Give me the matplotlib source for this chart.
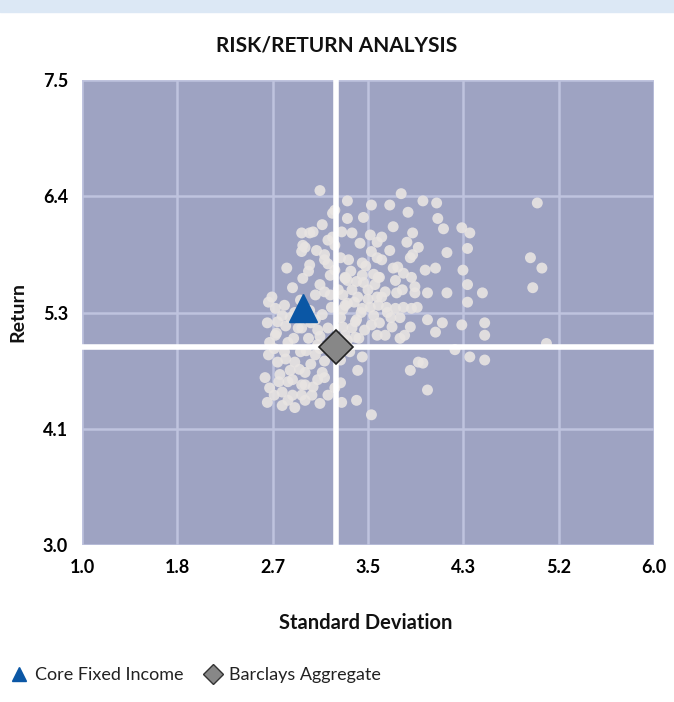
import matplotlib
matplotlib.use('Agg')
import matplotlib.pyplot as plt
from matplotlib.lines import Line2D
from matplotlib.patches import Rectangle

plt.rcParams['font.family'] = ['Lato', 'DejaVu Sans']

# peer universe (standard deviation, return)
peer_sd = [
    3.08, 3.79, 3.32, 3.53, 3.69, 3.98, 4.10, 3.85, 4.11, 3.32, 3.46, 3.21, 3.72, 4.16, 4.32, 4.39,
    3.36, 3.52, 3.89, 2.99, 3.58, 3.84, 3.94, 4.37, 3.43, 3.69, 4.19, 2.95, 3.12, 3.58, 3.87, 3.26,
    3.45, 3.72, 4.00, 4.09, 4.33, 3.60, 3.81, 3.32, 3.46, 2.93, 3.91, 4.02, 4.19, 4.37, 4.50, 3.75,
    3.58, 3.41, 4.37, 3.81, 3.93, 3.32, 3.52, 3.67, 4.02, 4.15, 4.32, 4.52, 3.78, 3.40, 3.71, 3.87,
    3.28, 4.09, 4.52, 3.78, 3.58, 3.39, 5.06, 4.26, 4.39, 4.52, 3.45, 3.41, 3.87, 3.98, 4.02, 3.40,
    3.53, 3.26, 3.08, 3.02, 4.98, 4.92, 5.02, 4.94, 2.92, 3.02, 2.93, 2.92, 3.12, 2.79, 2.84, 3.04,
    2.66, 3.19, 3.19, 3.17, 2.62, 2.63, 2.69, 2.77, 2.63, 2.71, 2.60, 2.80, 2.92, 2.62, 2.75, 2.86,
    3.01, 3.10, 3.04, 2.86, 2.80, 2.98, 3.15, 3.10, 2.69, 2.89, 3.12, 2.95, 2.75, 3.21, 3.30, 3.45,
    3.59, 3.74, 3.88, 3.39, 3.53, 3.82, 3.30, 3.65, 3.94, 3.27, 3.27, 3.62, 3.53, 3.89, 3.33, 3.62,
    3.76, 3.30, 3.45, 3.59, 3.74, 3.88, 3.36, 3.50, 3.65, 3.80, 3.91, 2.91, 2.99, 2.82, 3.06, 3.17,
    3.26, 2.91, 2.77, 3.26, 3.34, 3.17, 3.24, 3.26, 3.06, 2.64, 2.73, 2.84, 2.64, 2.95, 2.82, 3.21,
    3.21, 3.08, 2.99, 2.71, 3.04,
    3.35, 3.40, 3.38, 3.44, 3.50, 3.55, 3.47, 3.36, 3.28, 3.30, 3.48, 3.56, 3.62, 3.60, 3.42, 3.32,
    3.28, 3.55, 3.66, 3.70,
    2.70, 2.78, 2.85, 2.92, 3.00, 3.08, 2.68, 2.78, 2.90, 3.00, 3.12, 2.72, 2.84, 2.95, 3.06, 2.68,
    2.80, 2.92, 3.15, 3.08, 2.96, 2.86, 2.75, 3.18, 3.12,
    3.05, 3.15, 3.10, 2.98, 3.15,
]
peer_ret = [
    6.43, 6.40, 6.33, 6.29, 6.29, 6.33, 6.31, 6.22, 6.16, 6.16, 6.17, 6.24, 6.08, 6.06, 6.07, 6.02,
    6.02, 6.00, 6.02, 6.02, 5.93, 5.93, 5.88, 5.87, 5.92, 5.85, 5.83, 5.88, 5.81, 5.78, 5.78, 5.78,
    5.73, 5.68, 5.66, 5.68, 5.66, 5.59, 5.63, 5.56, 5.54, 5.58, 5.50, 5.44, 5.44, 5.52, 5.44, 5.44,
    5.40, 5.40, 5.35, 5.30, 5.30, 5.34, 5.30, 5.25, 5.18, 5.15, 5.13, 5.15, 5.20, 5.18, 5.11, 5.11,
    5.11, 5.06, 5.03, 5.00, 5.03, 5.01, 4.95, 4.89, 4.82, 4.79, 4.82, 4.69, 4.69, 4.76, 4.50, 4.40,
    4.26, 4.57, 4.37, 4.53, 6.31, 5.78, 5.68, 5.49, 6.02, 6.03, 5.90, 5.84, 5.76, 5.68, 5.49, 5.42,
    5.40, 6.21, 5.98, 5.61, 5.15, 5.35, 5.29, 5.32, 4.84, 4.77, 4.62, 4.58, 4.55, 4.38, 4.35, 4.33,
    4.45, 4.67, 4.84, 4.77, 4.96, 5.00, 5.10, 5.23, 5.03, 5.10, 4.62, 4.67, 4.48, 4.52, 5.32, 5.29,
    5.32, 5.29, 5.29, 5.16, 5.13, 5.03, 5.03, 5.03, 4.77, 4.38, 6.03, 5.98, 5.84, 5.81, 5.76, 5.76,
    5.69, 5.59, 5.61, 5.59, 5.56, 5.59, 5.47, 5.47, 5.45, 5.47, 5.44, 5.37, 5.27, 5.20, 4.94, 4.89,
    4.94, 4.87, 4.87, 4.79, 4.87, 5.42, 5.47, 5.20, 5.08, 4.96, 4.65, 4.45, 4.52, 4.40, 4.69, 5.66,
    5.90, 5.52, 5.71, 5.16, 5.18,
    5.65, 5.55, 5.35, 5.25, 5.38, 5.22, 5.08, 5.10, 5.42, 5.58, 5.70, 5.52, 5.40, 5.15, 5.00, 4.98,
    5.28, 5.62, 5.30, 5.20,
    5.05, 5.12, 5.00, 5.10, 5.15, 5.02, 4.90, 4.80, 4.70, 4.75, 4.78, 4.58, 4.60, 4.55, 4.60, 4.45,
    4.40, 4.45, 4.45, 4.90, 4.88, 5.25, 5.22, 5.30, 5.45,
    5.85, 5.95, 6.10, 5.65, 5.72,
]

core_sd, core_ret = 2.93, 5.29          # Core Fixed Income
bench_sd, bench_ret = 3.22, 4.92        # Barclays Aggregate

x_ticks = [1.0, 1.833, 2.667, 3.5, 4.333, 5.167, 6.0]
x_labels = ['1.0', '1.8', '2.7', '3.5', '4.3', '5.2', '6.0']
y_ticks = [3.0, 4.125, 5.25, 6.375, 7.5]
y_labels = ['3.0', '4.1', '5.3', '6.4', '7.5']

fig = plt.figure(figsize=(6.74, 7.02), dpi=100)
fig.patches.append(Rectangle((0, 1 - 12 / 702), 1, 12 / 702, transform=fig.transFigure,
                             color='#dce8f5', zorder=0))

ax = fig.add_axes([82 / 674, 1 - 545 / 702, 572 / 674, 465 / 702])
ax.set_facecolor('#9ea3c2')
ax.set_xlim(1.0, 6.0)
ax.set_ylim(3.0, 7.5)
for s in ax.spines.values():
    s.set_visible(False)

ax.set_xticks(x_ticks)
ax.set_xticklabels(x_labels)
ax.set_yticks(y_ticks)
ax.set_yticklabels(y_labels)
ax.tick_params(length=0, labelsize=13, pad=10)
for lab in ax.get_xticklabels() + ax.get_yticklabels():
    lab.set_fontweight('bold')
ax.grid(True, color='#bfc3de', linewidth=1.8)
ax.set_axisbelow(True)

ax.scatter(peer_sd, peer_ret, s=62, color='#e8e4e2', edgecolors='none', alpha=0.9, zorder=2)

# benchmark crosshair
ax.axvline(bench_sd, color='white', linewidth=4, zorder=3)
ax.axhline(bench_ret, color='white', linewidth=4, zorder=3)

ax.plot(core_sd, core_ret, marker='^', markersize=20, color='#0b57a5', linestyle='none', zorder=4)
ax.plot(bench_sd, bench_ret, marker='D', markersize=17, markerfacecolor='#878787',
        markeredgecolor='#222222', markeredgewidth=1.2, linestyle='none', zorder=5)

fig.text(0.5, 1 - 46 / 702, 'RISK/RETURN ANALYSIS', ha='center', va='center',
         fontsize=15, fontweight='bold', color='#111111')
fig.text(366 / 674, 1 - 623 / 702, 'Standard Deviation', ha='center', va='center',
         fontsize=14.5, fontweight='bold', color='#111111')
fig.text(18 / 674, 1 - 312 / 702, 'Return', ha='center', va='center', rotation=90,
         fontsize=14, fontweight='bold', color='#111111')

handles = [
    Line2D([], [], marker='^', color='#0b57a5', markersize=10, linestyle='none'),
    Line2D([], [], marker='D', markerfacecolor='#878787', markeredgecolor='#333333',
           markersize=10, linestyle='none'),
]
fig.legend(handles, ['Core Fixed Income', 'Barclays Aggregate'], loc='center left',
           bbox_to_anchor=(-0.012, 1 - 675 / 702), ncol=2, frameon=False, fontsize=13,
           handletextpad=0.3, columnspacing=1.0, handlelength=1.2, labelcolor='#222222')

fig.savefig('out.png', dpi=100)
